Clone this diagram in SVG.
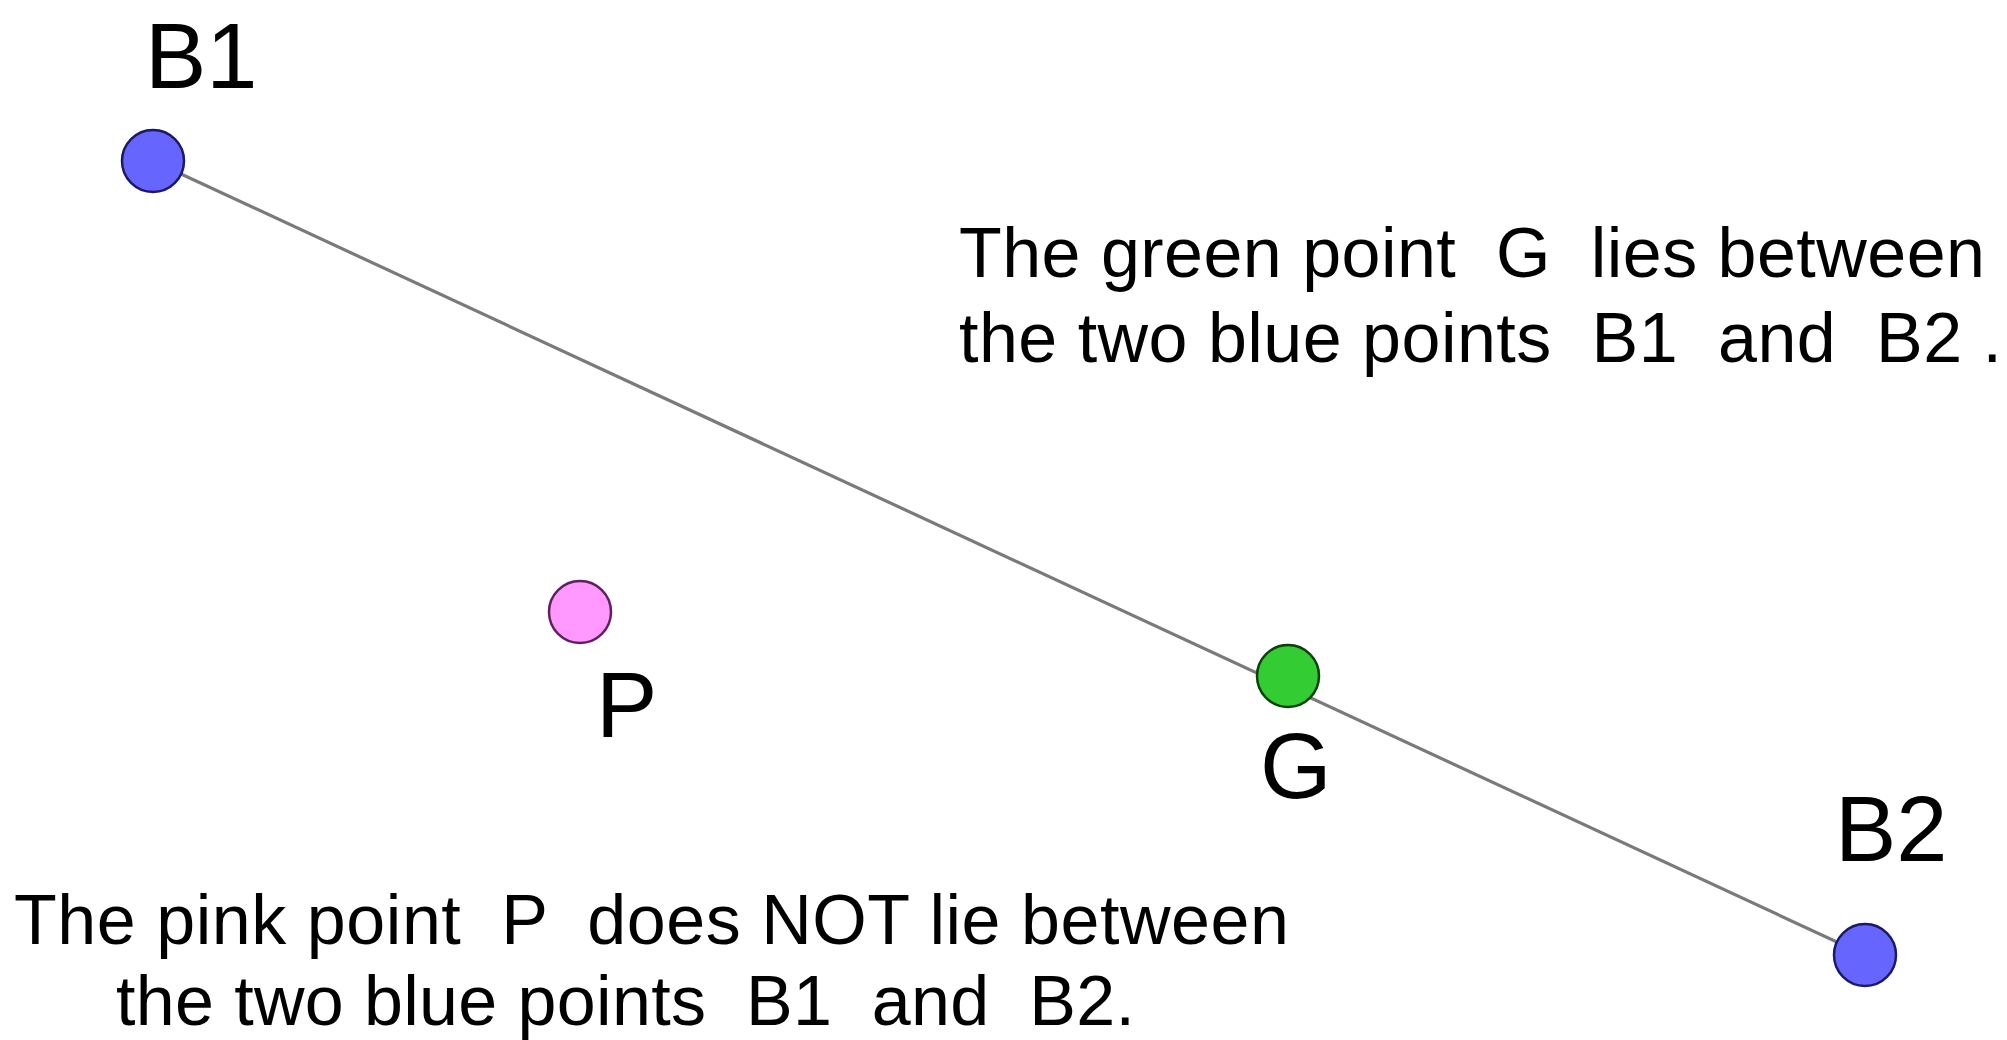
<svg xmlns="http://www.w3.org/2000/svg" width="2007" height="1040" viewBox="0 0 2007 1040">
<style>
text{font-family:"Liberation Sans",Arial,sans-serif;fill:#000;white-space:pre}
.lbl{font-size:92px}
.txt{font-size:70px}
.pt{stroke-width:2.5}
</style>
<rect width="2007" height="1040" fill="#fff"/>
<g id="connectors">
<line x1="153" y1="161" x2="1865" y2="955" stroke="#7a7a7a" stroke-width="3.2"/>
</g>
<g id="B1">
<circle class="pt" cx="153" cy="161" r="31" fill="#6666ff" stroke="#1a1a66"/>
<text class="lbl" x="145" y="88">B1</text>
</g>
<g id="G">
<circle class="pt" cx="1288" cy="676" r="31" fill="#33cc33" stroke="#0a400a"/>
<text class="lbl" x="1260" y="798">G</text>
</g>
<g id="B2">
<circle class="pt" cx="1865" cy="955" r="31" fill="#6666ff" stroke="#1a1a66"/>
<text class="lbl" x="1835" y="861">B2</text>
</g>
<g id="P">
<circle class="pt" cx="580" cy="612" r="31" fill="#ff99ff" stroke="#602060"/>
<text class="lbl" x="596" y="737">P</text>
</g>
<g id="caption-G">
<text class="txt" x="959" y="277" textLength="1026" lengthAdjust="spacing">The green point  G  lies between</text>
<text class="txt" x="959" y="362" textLength="1043" lengthAdjust="spacing">the two blue points  B1  and  B2 .</text>
</g>
<g id="caption-P">
<text class="txt" x="14" y="944" textLength="1275" lengthAdjust="spacing">The pink point  P  does NOT lie between</text>
<text class="txt" x="116" y="1025" textLength="1019" lengthAdjust="spacing">the two blue points  B1  and  B2.</text>
</g>
</svg>
